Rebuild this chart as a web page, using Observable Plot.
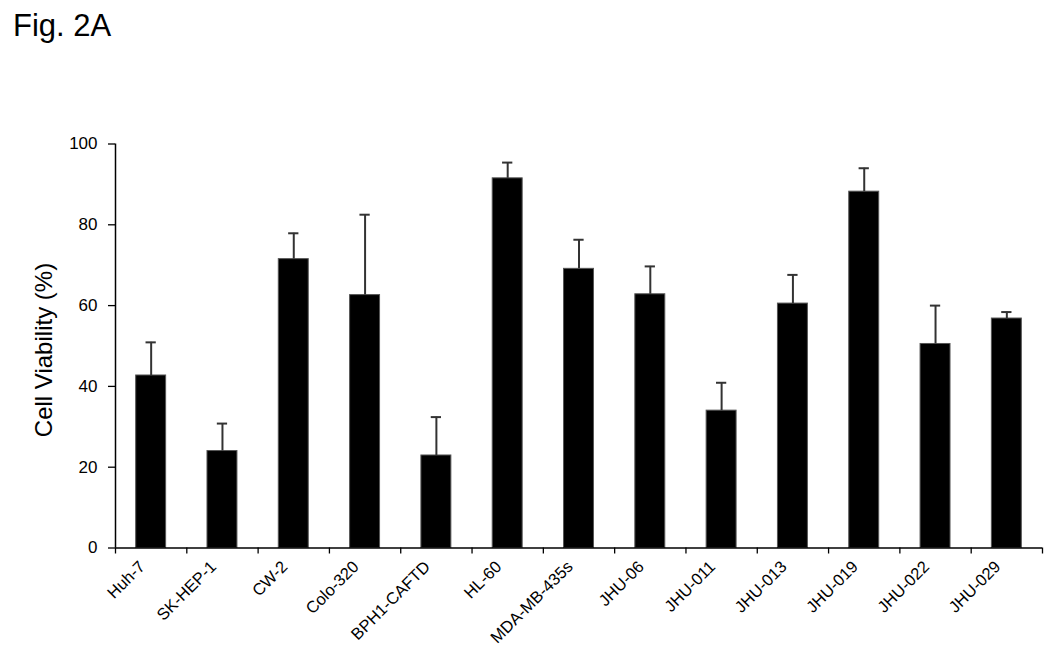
<!DOCTYPE html>
<html>
<head>
<meta charset="utf-8">
<script src="https://cdn.jsdelivr.net/npm/d3@7"></script>
<script src="https://cdn.jsdelivr.net/npm/@observablehq/plot@0.6"></script>
<style>
  html, body { margin: 0; padding: 0; background: white; }
  #wrap { position: relative; width: 1050px; height: 650px; }
  #title { position: absolute; left: 13px; top: 10px; font-family: "Liberation Sans", Arial, sans-serif; font-size: 31px; line-height: 31px; color: black; }
  svg { display: block; }
</style>
</head>
<body>
<div id="wrap"><div id="title">Fig. 2A</div><div id="chart"></div></div>
<script>
const categories = ["Huh-7", "SK-HEP-1", "CW-2", "Colo-320", "BPH1-CAFTD", "HL-60", "MDA-MB-435s", "JHU-06", "JHU-011", "JHU-013", "JHU-019", "JHU-022", "JHU-029"];
const viability = [42.7, 24.0, 71.5, 62.6, 22.9, 91.5, 69.1, 62.8, 34.0, 60.5, 88.2, 50.5, 56.8];
const errors = [8.2, 6.8, 6.4, 19.9, 9.5, 3.9, 7.2, 6.9, 6.9, 7.1, 5.8, 9.5, 1.6];
const yTicks = [0, 20, 40, 60, 80, 100];

const data = categories.map((c, i) => ({cat: c, i, v: viability[i], e: errors[i]}));
const half = 0.21;   // half bar width in band units
const cap = 0.072;   // half cap width

const chart = Plot.plot({
  width: 1050,
  height: 650,
  marginLeft: 115,
  marginRight: 8,
  marginTop: 143.5,
  marginBottom: 102.5,
  x: {domain: [0, categories.length]},
  y: {domain: [0, 100]},
  style: {fontFamily: "'Liberation Sans', Arial, sans-serif", background: "white", color: "black"},
  marks: [
    Plot.rectY(data, {x1: d => d.i + 0.5 - half, x2: d => d.i + 0.5 + half, y: "v", fill: "black", stroke: "#555", strokeWidth: 1}),
    Plot.ruleX(data, {x: d => d.i + 0.5, y1: "v", y2: d => d.v + d.e, stroke: "#333", strokeWidth: 2}),
    Plot.ruleY(data, {y: d => d.v + d.e, x1: d => d.i + 0.5 - cap, x2: d => d.i + 0.5 + cap, stroke: "#333", strokeWidth: 2}),
    Plot.axisY({ticks: yTicks, tickSize: 7, tickPadding: 11, fontSize: 17, label: null, stroke: "black", strokeWidth: 1.3}),
    Plot.axisX({ticks: d3.range(categories.length + 1), tickSize: 6, tickFormat: () => "", label: null, stroke: "black", strokeWidth: 1.3}),
    Plot.ruleY([0], {stroke: "black", strokeWidth: 1.5}),
    Plot.ruleX([0], {stroke: "black", strokeWidth: 1.5}),
    Plot.text(data, {x: d => d.i + 0.5, y: 0, text: "cat", rotate: -45, textAnchor: "end", dx: -9, dy: 16, fontSize: 16.5, fill: "black"}),
    Plot.text(["Cell Viability (%)"], {frameAnchor: "left", text: d => d, rotate: -90, textAnchor: "middle", dx: -71, dy: 4, fontSize: 24, fill: "black"})
  ]
});
document.getElementById("chart").appendChild(chart);
</script>
</body>
</html>
